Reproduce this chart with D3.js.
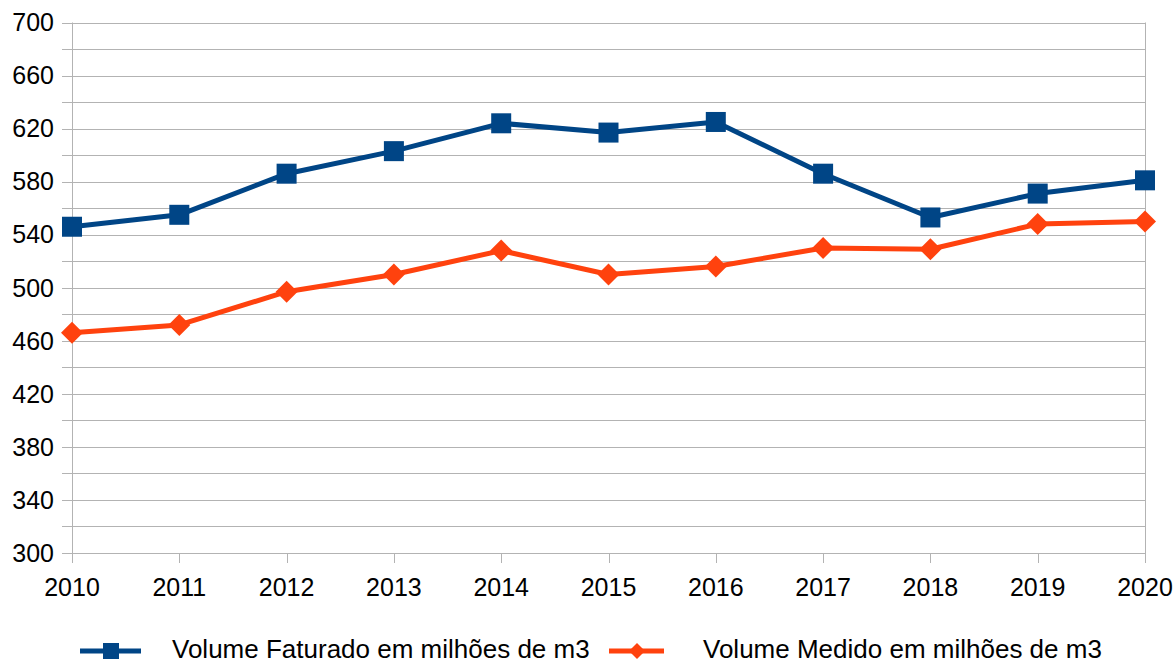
<!DOCTYPE html>
<html><head><meta charset="utf-8">
<script src="https://cdn.jsdelivr.net/npm/d3@7"></script>
<style>body{margin:0;background:#fff}svg{display:block}text{font-family:"Liberation Sans",Arial,sans-serif;fill:#000}</style>
</head><body><svg id="c" width="1175" height="664"></svg>
<script>
const years = [2010,2011,2012,2013,2014,2015,2016,2017,2018,2019,2020];
const faturado = [546,555,586,603,624,617,625,586,553,571,581];
const medido = [466,472,497,510,528,510,516,530,529,548,550];
const yTickLabels = [300,340,380,420,460,500,540,580,620,660,700];
const seriesNames = ["Volume Faturado em milhões de m3","Volume Medido em milhões de m3"];

const svg = d3.select("#c");
const L=72, R=1145, T=22.5, B=553;
const FS = 25, LFS = 26;
const x = d3.scaleLinear().domain([2010,2020]).range([L,R]);
const y = d3.scaleLinear().domain([300,700]).range([B,T]);
const grid = "#b3b3b3";

const minor = d3.range(300,701,20);
svg.append("g").selectAll("line").data(minor).join("line")
  .attr("x1",L-10).attr("x2",R).attr("y1",d=>Math.round(y(d))+0.5).attr("y2",d=>Math.round(y(d))+0.5)
  .attr("stroke",grid).attr("stroke-width",1);
svg.append("line").attr("x1",L+0.5).attr("x2",L+0.5).attr("y1",T).attr("y2",B+10).attr("stroke",grid);
svg.append("line").attr("x1",R+0.5).attr("x2",R+0.5).attr("y1",T).attr("y2",B+10).attr("stroke",grid);
svg.append("g").selectAll("line").data(years).join("line")
  .attr("x1",d=>Math.round(x(d))+0.5).attr("x2",d=>Math.round(x(d))+0.5).attr("y1",B).attr("y2",B+10).attr("stroke",grid);

svg.append("g").selectAll("text").data(yTickLabels).join("text")
  .attr("x",54).attr("y",d=>y(d)).attr("dy","0.35em").attr("text-anchor","end")
  .attr("font-size",FS).text(d=>d);
svg.append("g").selectAll("text").data(years).join("text")
  .attr("x",d=>x(d)).attr("y",596).attr("text-anchor","middle")
  .attr("font-size",FS).text(d=>d);

const line = d3.line().x((d,i)=>x(years[i])).y(d=>y(d));
const colors = ["#004586","#ff420e"];
[faturado,medido].forEach((s,k)=>{
  svg.append("path").datum(s).attr("d",line).attr("fill","none")
    .attr("stroke",colors[k]).attr("stroke-width",5).attr("stroke-linejoin","round");
});
svg.append("g").selectAll("rect").data(faturado).join("rect")
  .attr("x",(d,i)=>x(years[i])-10).attr("y",d=>y(d)-10).attr("width",20).attr("height",20).attr("fill",colors[0]);
svg.append("g").selectAll("path").data(medido).join("path")
  .attr("d","M0,-11L11,0L0,11L-11,0Z")
  .attr("transform",(d,i)=>`translate(${x(years[i])},${y(d)})`).attr("fill",colors[1]);

// legend
const ly = 651;
svg.append("line").attr("x1",80).attr("x2",141).attr("y1",ly).attr("y2",ly).attr("stroke",colors[0]).attr("stroke-width",5);
svg.append("rect").attr("x",103).attr("y",ly-8).attr("width",16).attr("height",16).attr("fill",colors[0]);
svg.append("text").attr("x",172).attr("y",658.3).attr("font-size",LFS).text(seriesNames[0]);
svg.append("line").attr("x1",609).attr("x2",664).attr("y1",ly).attr("y2",ly).attr("stroke",colors[1]).attr("stroke-width",5);
svg.append("path").attr("d","M0,-8L8,0L0,8L-8,0Z").attr("transform",`translate(637,${ly})`).attr("fill",colors[1]);
svg.append("text").attr("x",703).attr("y",658.3).attr("font-size",LFS).text(seriesNames[1]);
</script></body></html>
